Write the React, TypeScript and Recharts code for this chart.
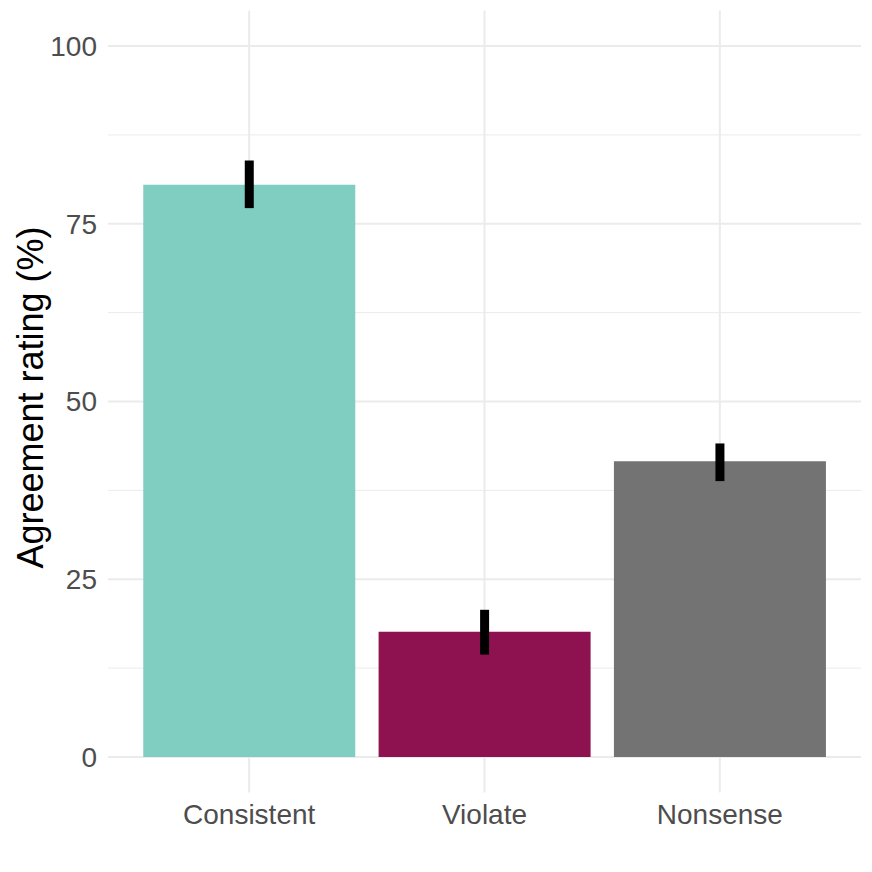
import { BarChart, Bar, XAxis, YAxis, CartesianGrid, ErrorBar, Cell } from "recharts";

const conditions = ["Consistent", "Violate", "Nonsense"];
const means = [80.5, 17.6, 41.6];
const lower = [77.2, 14.4, 38.8];
const upper = [83.9, 20.7, 44.1];
const colors = ["#80CDC1", "#8E1250", "#737373"];
const yTicks = [0, 25, 50, 75, 100];
const minorTicks = [12.5, 37.5, 62.5, 87.5];

const data = conditions.map((name, i) => ({
  name,
  value: means[i],
  err: [means[i] - lower[i], upper[i] - means[i]],
}));

const tickStyle = { fill: "#4D4D4D", fontSize: 28 };

export default function App() {
  return (
    <div style={{ position: "absolute", left: 0, top: 0, background: "#fff" }}>
      <BarChart
        width={872}
        height={872}
        data={data}
        margin={{ top: 10.5, right: 11, bottom: 0, left: 0 }}
        barCategoryGap="5%"
        style={{ fontFamily: "Liberation Sans, Arial, sans-serif" }}
      >
        <CartesianGrid
          stroke="#EBEBEB"
          strokeWidth={1}
          vertical={false}
          horizontalValues={minorTicks}
          syncWithTicks
        />
        <CartesianGrid stroke="#EBEBEB" strokeWidth={2} syncWithTicks />
        <XAxis
          dataKey="name"
          axisLine={false}
          tickLine={false}
          tickSize={0}
          tickMargin={12}
          height={79.5}
          padding={{ left: 23.5, right: 23.5 }}
          tick={tickStyle}
        />
        <YAxis
          domain={[-5, 105]}
          ticks={yTicks}
          axisLine={false}
          tickLine={false}
          tickSize={0}
          tickMargin={11}
          width={108}
          tick={tickStyle}
          label={{
            value: "Agreement rating (%)",
            angle: -90,
            position: "center",
            dx: -24,
            dy: -4,
            fill: "#000",
            fontSize: 36,
          }}
        />
        <Bar dataKey="value" isAnimationActive={false}>
          {data.map((d, i) => (
            <Cell key={d.name} fill={colors[i]} />
          ))}
          <ErrorBar dataKey="err" width={0} stroke="#000" strokeWidth={9} direction="y" />
        </Bar>
      </BarChart>
    </div>
  );
}
